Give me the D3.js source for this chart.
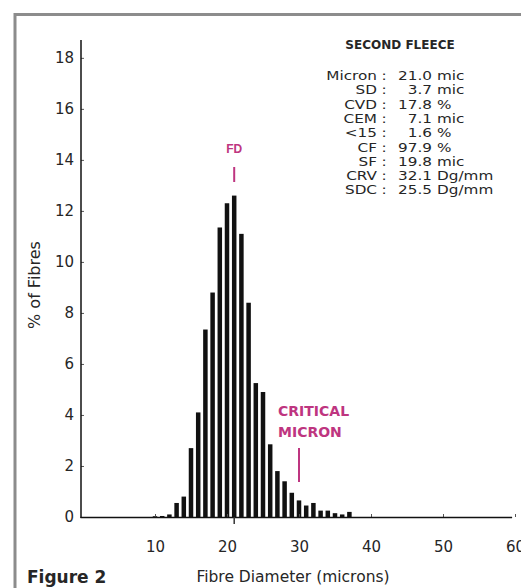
<!DOCTYPE html>
<html>
<head>
<meta charset="utf-8">
<script src="https://cdn.jsdelivr.net/npm/d3@7"></script>
<style>
  html, body { margin: 0; padding: 0; background: #fff; overflow: hidden; }
  svg { display: block; }
  text { font-family: "DejaVu Sans", sans-serif; fill: #262626; }
</style>
</head>
<body>
<svg id="chart" width="521" height="588"></svg>
<script>
// Fibre diameter histogram (1 micron bins)
const diameters = [10, 11, 12, 13, 14, 15, 16, 17, 18, 19, 20, 21, 22, 23, 24,
                   25, 26, 27, 28, 29, 30, 31, 32, 33, 34, 35, 36, 37];
const percentFibres = [0.03, 0.04, 0.1, 0.55, 0.8, 2.7, 4.1, 7.35, 8.8, 11.35, 12.3, 12.6, 11.1, 8.4, 5.25,
                       4.9, 2.85, 1.8, 1.4, 0.95, 0.65, 0.45, 0.55, 0.25, 0.25, 0.15, 0.1, 0.2];

const xTicks = [10, 20, 30, 40, 50, 60];
const yTicks = [0, 2, 4, 6, 8, 10, 12, 14, 16, 18];

const statLabels = ['Micron', 'SD', 'CVD', 'CEM', '<15', 'CF', 'SF', 'CRV', 'SDC'];
const statValues = ['21.0', '3.7', '17.8', '7.1', '1.6', '97.9', '19.8', '32.1', '25.5'];
const statUnits = ['mic', 'mic', '%', 'mic', '%', '%', 'mic', 'Dg/mm', 'Dg/mm'];

const fdMicron = 21.0;
const criticalMicron = 30;

const MAGENTA = '#be3580';
const BAR_WIDTH = 4.5;
const STAT_STRETCH = 1.25;

const svg = d3.select('#chart');

// grey frame round the figure
svg.append('rect')
    .attr('x', 15).attr('y', 14.5)
    .attr('width', 620).attr('height', 620)
    .attr('fill', 'none')
    .attr('stroke', '#8c8c8c')
    .attr('stroke-width', 3);

const x = d3.scaleLinear().domain([0, 60]).range([83, 515]);
const y = d3.scaleLinear().domain([0, 18.7]).range([517, 40]);

// bars
svg.append('g').selectAll('rect')
    .data(diameters)
    .join('rect')
    .attr('x', (d, i) => x(d) - BAR_WIDTH / 2)
    .attr('y', (d, i) => y(percentFibres[i]))
    .attr('width', BAR_WIDTH)
    .attr('height', (d, i) => y(0) - y(percentFibres[i]))
    .attr('fill', '#111');

// axes
const yAxis = svg.append('g')
    .attr('transform', `translate(${x(0) - 2},0)`)
    .call(d3.axisLeft(y).tickValues(yTicks).tickSizeInner(-3).tickSizeOuter(0).tickPadding(7));
const xAxis = svg.append('g')
    .attr('transform', `translate(0,${y(0)})`)
    .call(d3.axisBottom(x).tickValues(xTicks).tickSizeInner(-3).tickSizeOuter(0).tickPadding(24));

[yAxis, xAxis].forEach(g => {
    g.select('.domain').remove();
    g.selectAll('.tick line').attr('stroke', '#555').attr('stroke-width', 1);
    g.selectAll('.tick text')
        .style('font-family', '"DejaVu Sans", sans-serif')
        .style('font-size', '15px')
        .attr('fill', '#2a2a2a');
});

svg.append('line')
    .attr('x1', x(0) - 2).attr('x2', x(0) - 2)
    .attr('y1', y(18.7)).attr('y2', y(0) + 1)
    .attr('stroke', '#111').attr('stroke-width', 1.5);
svg.append('line')
    .attr('x1', x(0) - 2.5).attr('x2', x(59.6))
    .attr('y1', y(0) + 0.5).attr('y2', y(0) + 0.5)
    .attr('stroke', '#111').attr('stroke-width', 1.5);

// small mark under the axis at the mean
svg.append('line')
    .attr('x1', x(fdMicron)).attr('x2', x(fdMicron))
    .attr('y1', y(0)).attr('y2', y(0) + 7)
    .attr('stroke', '#333').attr('stroke-width', 1.5);

// axis titles
svg.append('text')
    .attr('transform', `translate(40,${285}) rotate(-90)`)
    .attr('text-anchor', 'middle')
    .style('font-size', '16px')
    .text('% of Fibres');

svg.append('text')
    .attr('x', 293).attr('y', 582)
    .attr('text-anchor', 'middle')
    .style('font-size', '15.5px')
    .text('Fibre Diameter (microns)');

svg.append('text')
    .attr('x', 27).attr('y', 583)
    .style('font-size', '17px')
    .style('font-weight', 'bold')
    .attr('fill', '#111')
    .text('Figure 2');

// FD marker
svg.append('text')
    .attr('x', x(fdMicron)).attr('y', 153)
    .attr('text-anchor', 'middle')
    .style('font-family', '"Liberation Sans", Arial, sans-serif')
    .style('font-size', '12px')
    .style('font-weight', 'bold')
    .style('fill', MAGENTA)
    .text('FD');
svg.append('line')
    .attr('x1', x(fdMicron)).attr('x2', x(fdMicron))
    .attr('y1', 167).attr('y2', 182)
    .attr('stroke', MAGENTA).attr('stroke-width', 2);

// critical micron marker
const crit = svg.append('g').style('font-family', '"Liberation Sans", Arial, sans-serif')
    .style('font-size', '14px').style('font-weight', 'bold');
crit.append('text').attr('x', 278).attr('y', 416).style('fill', MAGENTA).text('CRITICAL');
crit.append('text').attr('x', 278).attr('y', 437).style('fill', MAGENTA).text('MICRON');
svg.append('line')
    .attr('x1', x(criticalMicron)).attr('x2', x(criticalMicron))
    .attr('y1', 448).attr('y2', 482)
    .attr('stroke', MAGENTA).attr('stroke-width', 2);

// fleece statistics
svg.append('text')
    .attr('x', 400).attr('y', 49)
    .attr('text-anchor', 'middle')
    .style('font-size', '12px')
    .style('font-weight', 'bold')
    .text('SECOND FLEECE');

// text is set narrow-tall in the scan, so stretch it sideways
function statText(g, tx, ty, anchor, str) {
    g.append('text')
        .attr('transform', `translate(${tx},${ty}) scale(${STAT_STRETCH},1)`)
        .attr('text-anchor', anchor)
        .text(str);
}

const rows = svg.append('g').style('font-size', '12.2px');
statLabels.forEach((lab, i) => {
    const by = 80 + i * 14.3;
    statText(rows, 377, by, 'end', lab);
    statText(rows, 384, by, 'middle', ':');
    statText(rows, 432, by, 'end', statValues[i]);
    statText(rows, 437, by, 'start', statUnits[i]);
});
</script>
</body>
</html>
